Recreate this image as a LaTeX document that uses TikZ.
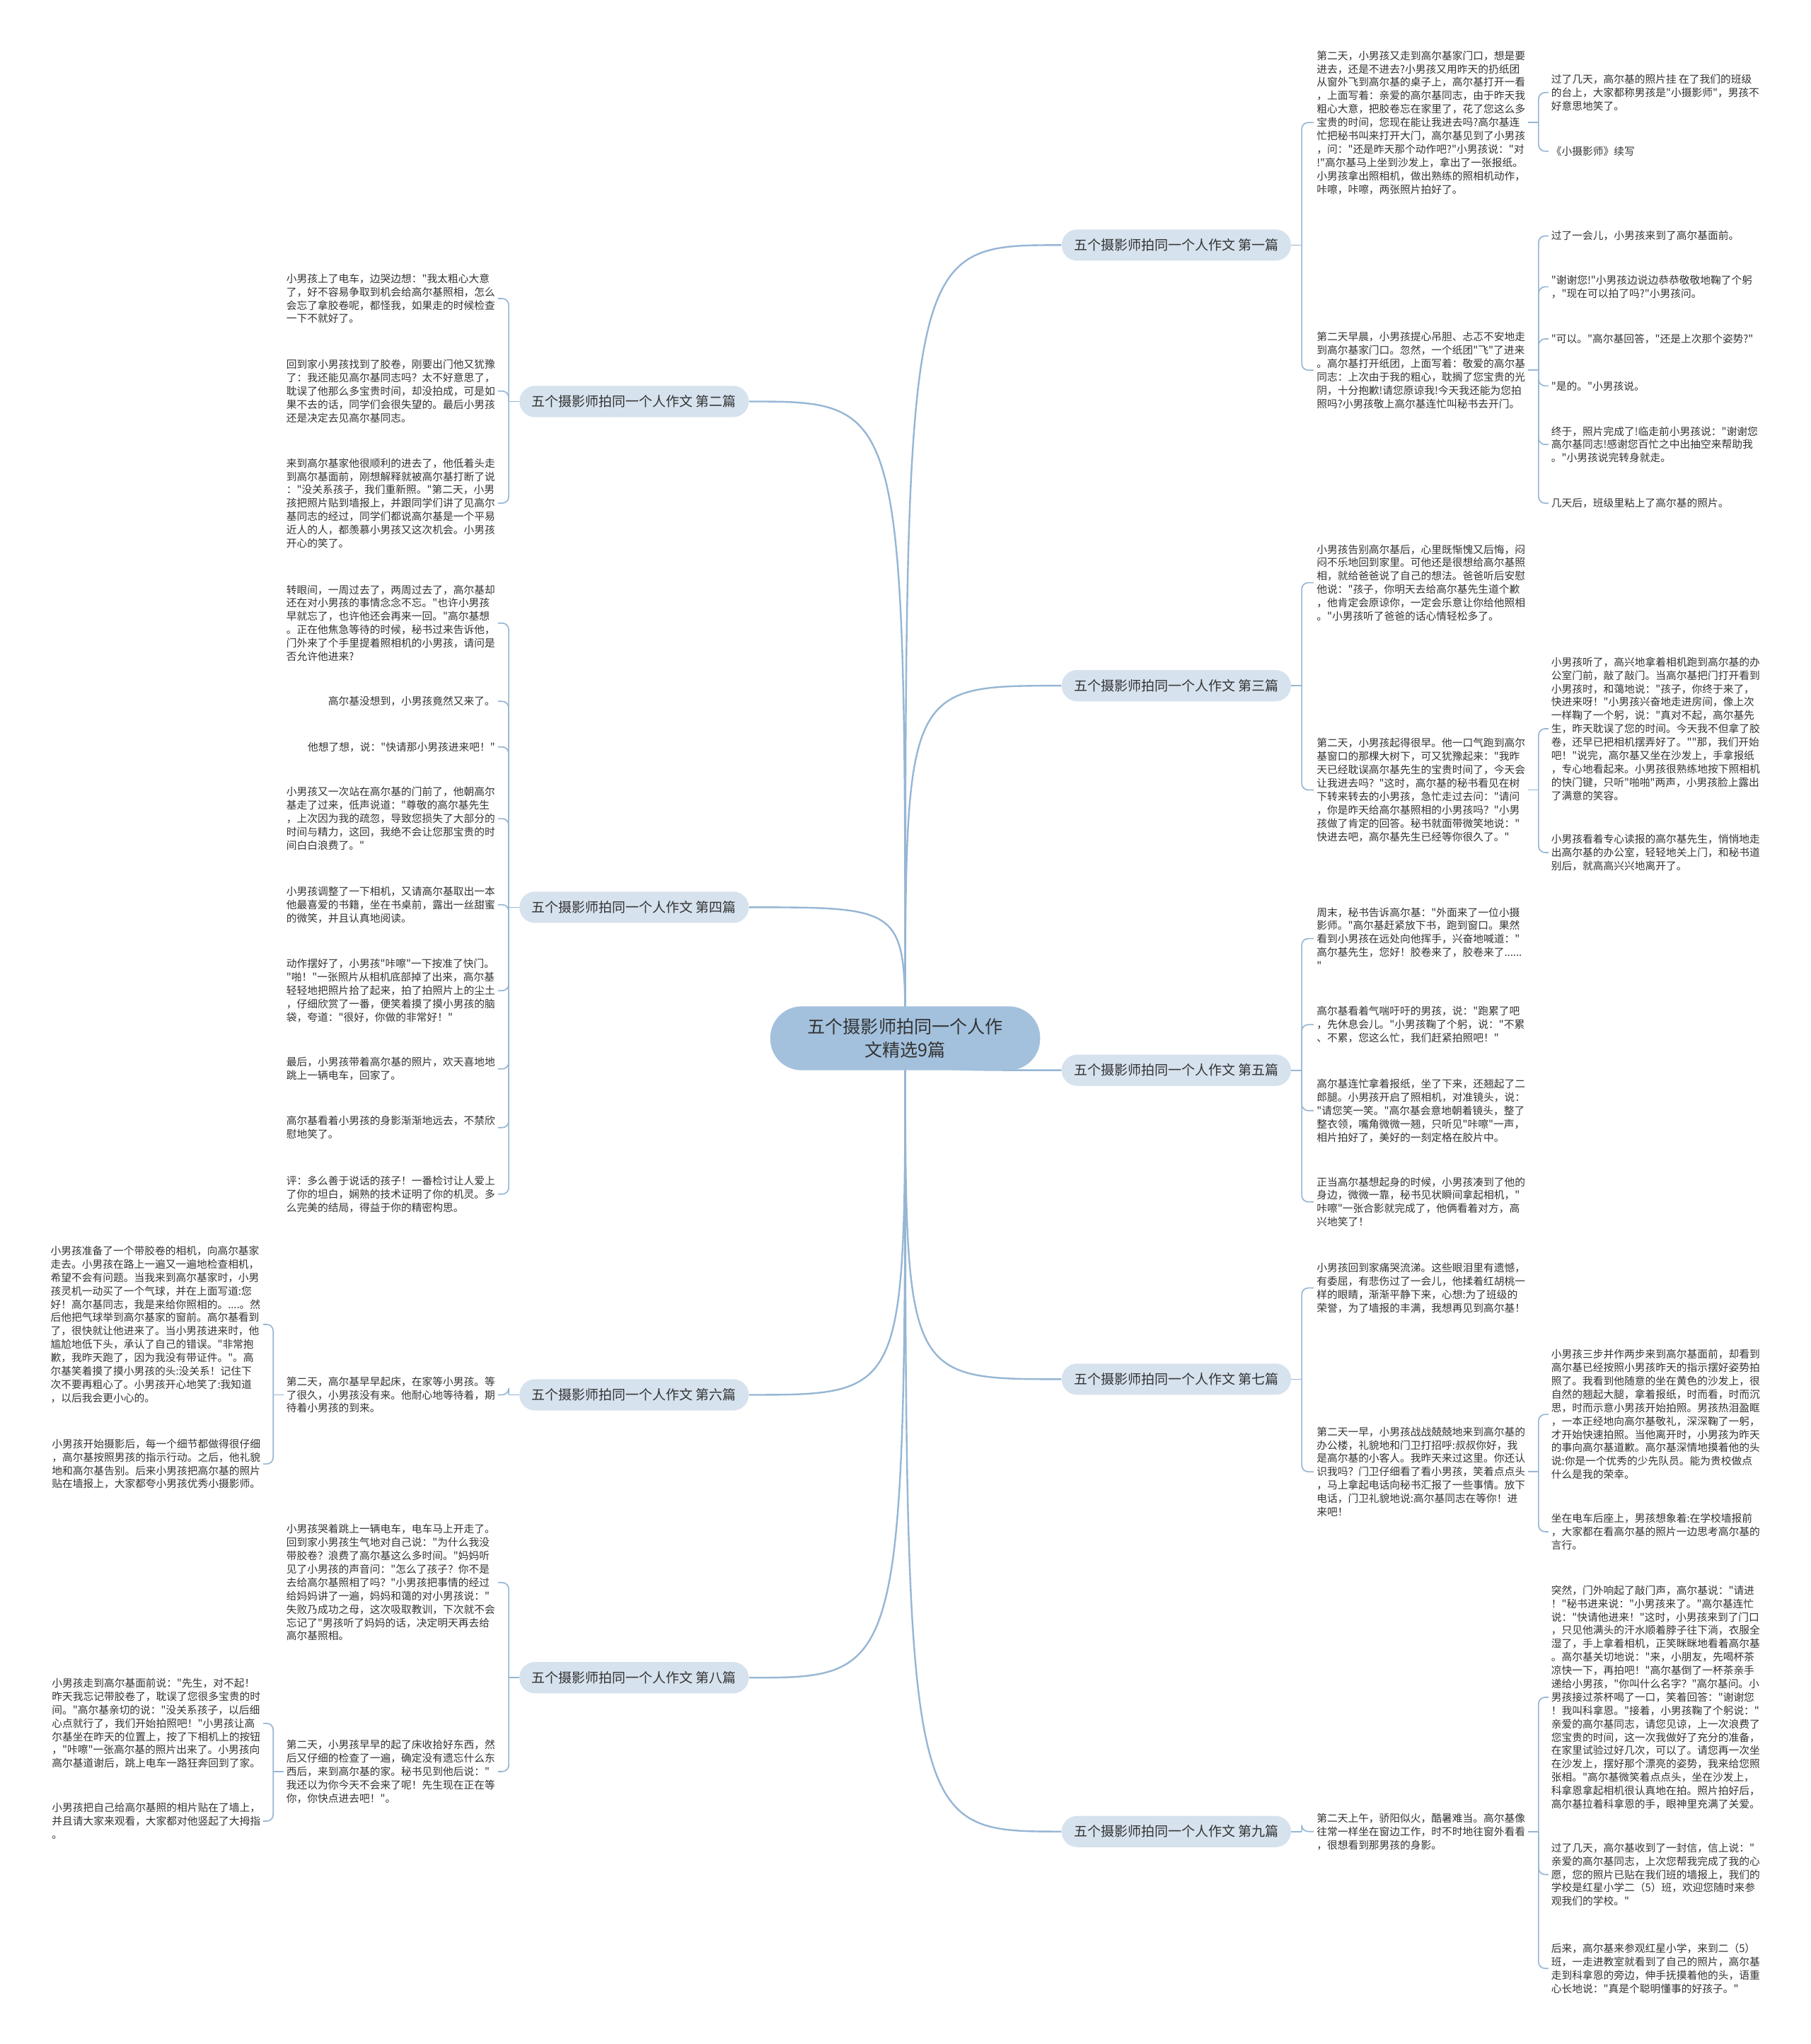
\documentclass[tikz,border=0pt]{standalone}
\usetikzlibrary{backgrounds}
\font\leaffont="Noto Sans CJK SC" at 8pt
\font\branchfont="Noto Sans CJK SC" at 10.3pt
\font\rootfont="Noto Sans CJK SC" at 13.6pt
\newcommand\leafsize{\leaffont\baselineskip=10.25pt}
\newcommand\rootsize{\rootfont\baselineskip=18pt}
\definecolor{linec}{RGB}{150,182,212}
\definecolor{rootc}{RGB}{163,193,221}
\definecolor{branchc}{RGB}{214,226,237}
\definecolor{txt}{RGB}{51,51,51}
\begin{document}
\begin{tikzpicture}[x=1pt, y=-1pt,
    leaf/.style={font=\leafsize, text=txt, align=left, inner sep=2pt},
    branch/.style={fill=branchc, text=txt, font=\branchfont, rounded corners=12pt,
        minimum width=176pt, minimum height=24pt, inner sep=0pt},
    root/.style={fill=rootc, text=txt, font=\rootsize, align=center, rounded corners=24pt,
        minimum width=207pt, minimum height=49pt, inner sep=0pt},
    link/.style={draw=linec, line width=1.3pt},
    brk/.style={draw=linec, line width=0.9pt, rounded corners=5pt}]
    \useasboundingbox (0,0) rectangle (1389,1568);
    % centre and the nine branches
    \node[root] (root) at (694.5,796.5) {五个摄影师拍同一个人作\\文精选9篇};
    \node[branch] (b1) at (902.5,188) {五个摄影师拍同一个人作文 第一篇};
    \node[branch] (b2) at (486.5,308) {五个摄影师拍同一个人作文 第二篇};
    \node[branch] (b3) at (902.5,526) {五个摄影师拍同一个人作文 第三篇};
    \node[branch] (b4) at (486.5,696) {五个摄影师拍同一个人作文 第四篇};
    \node[branch] (b5) at (902.5,821) {五个摄影师拍同一个人作文 第五篇};
    \node[branch] (b6) at (486.5,1070) {五个摄影师拍同一个人作文 第六篇};
    \node[branch] (b7) at (902.5,1058) {五个摄影师拍同一个人作文 第七篇};
    \node[branch] (b8) at (486.5,1287) {五个摄影师拍同一个人作文 第八篇};
    \node[branch] (b9) at (902.5,1405) {五个摄影师拍同一个人作文 第九篇};

    % 第一篇
    \node[leaf, anchor=west] (l1a) at (1008,94) {第二天，小男孩又走到高尔基家门口，想是要\\进去，还是不进去?小男孩又用昨天的扔纸团\\从窗外飞到高尔基的桌子上，高尔基打开一看\\，上面写着：亲爱的高尔基同志，由于昨天我\\粗心大意，把胶卷忘在家里了，花了您这么多\\宝贵的时间，您现在能让我进去吗?高尔基连\\忙把秘书叫来打开大门，高尔基见到了小男孩\\，问："还是昨天那个动作吧?"小男孩说："对\\!"高尔基马上坐到沙发上，拿出了一张报纸。\\小男孩拿出照相机，做出熟练的照相机动作，\\咔嚓，咔嚓，两张照片拍好了。};
    \node[leaf, anchor=west] (l1a1) at (1188,71) {过了几天，高尔基的照片挂 在了我们的班级\\的台上，大家都称男孩是"小摄影师"，男孩不\\好意思地笑了。};
    \node[leaf, anchor=west] (l1a2) at (1188,116) {《小摄影师》续写};
    \node[leaf, anchor=west] (l1b) at (1008,284) {第二天早晨，小男孩提心吊胆、忐忑不安地走\\到高尔基家门口。忽然，一个纸团"飞"了进来\\。高尔基打开纸团，上面写着：敬爱的高尔基\\同志：上次由于我的粗心，耽搁了您宝贵的光\\阴，十分抱歉!请您原谅我!今天我还能为您拍\\照吗?小男孩敬上高尔基连忙叫秘书去开门。};
    \node[leaf, anchor=west] (l1b1) at (1188,181) {过了一会儿，小男孩来到了高尔基面前。};
    \node[leaf, anchor=west] (l1b2) at (1188,220) {"谢谢您!"小男孩边说边恭恭敬敬地鞠了个躬\\，"现在可以拍了吗?"小男孩问。};
    \node[leaf, anchor=west] (l1b3) at (1188,260) {"可以。"高尔基回答，"还是上次那个姿势?"};
    \node[leaf, anchor=west] (l1b4) at (1188,296) {"是的。"小男孩说。};
    \node[leaf, anchor=west] (l1b5) at (1188,341) {终于，照片完成了!临走前小男孩说："谢谢您\\高尔基同志!感谢您百忙之中出抽空来帮助我\\。"小男孩说完转身就走。};
    \node[leaf, anchor=west] (l1b6) at (1188,386) {几天后，班级里粘上了高尔基的照片。};

    % 第二篇
    \node[leaf, anchor=east] (l2a) at (382,229) {小男孩上了电车，边哭边想："我太粗心大意\\了，好不容易争取到机会给高尔基照相，怎么\\会忘了拿胶卷呢，都怪我，如果走的时候检查\\一下不就好了。};
    \node[leaf, anchor=east] (l2b) at (382,300) {回到家小男孩找到了胶卷，刚要出门他又犹豫\\了：我还能见高尔基同志吗？太不好意思了，\\耽误了他那么多宝贵时间，却没拍成，可是如\\果不去的话，同学们会很失望的。最后小男孩\\还是决定去见高尔基同志。};
    \node[leaf, anchor=east] (l2c) at (382,386) {来到高尔基家他很顺利的进去了，他低着头走\\到高尔基面前，刚想解释就被高尔基打断了说\\："没关系孩子，我们重新照。"第二天，小男\\孩把照片贴到墙报上，并跟同学们讲了见高尔\\基同志的经过，同学们都说高尔基是一个平易\\近人的人，都羡慕小男孩又这次机会。小男孩\\开心的笑了。};

    % 第三篇
    \node[leaf, anchor=west] (l3a) at (1008,447) {小男孩告别高尔基后，心里既惭愧又后悔，闷\\闷不乐地回到家里。可他还是很想给高尔基照\\相，就给爸爸说了自己的想法。爸爸听后安慰\\他说："孩子，你明天去给高尔基先生道个歉\\，他肯定会原谅你，一定会乐意让你给他照相\\。"小男孩听了爸爸的话心情轻松多了。};
    \node[leaf, anchor=west] (l3b) at (1008,606) {第二天，小男孩起得很早。他一口气跑到高尔\\基窗口的那棵大树下，可又犹豫起来："我昨\\天已经耽误高尔基先生的宝贵时间了，今天会\\让我进去吗？"这时，高尔基的秘书看见在树\\下转来转去的小男孩，急忙走过去问："请问\\，你是昨天给高尔基照相的小男孩吗？"小男\\孩做了肯定的回答。秘书就面带微笑地说："\\快进去吧，高尔基先生已经等你很久了。"};
    \node[leaf, anchor=west] (l3b1) at (1188,559) {小男孩听了，高兴地拿着相机跑到高尔基的办\\公室门前，敲了敲门。当高尔基把门打开看到\\小男孩时，和蔼地说："孩子，你终于来了，\\快进来呀！"小男孩兴奋地走进房间，像上次\\一样鞠了一个躬，说："真对不起，高尔基先\\生，昨天耽误了您的时间。今天我不但拿了胶\\卷，还早已把相机摆弄好了。""那，我们开始\\吧！"说完，高尔基又坐在沙发上，手拿报纸\\，专心地看起来。小男孩很熟练地按下照相机\\的快门键，只听"啪啪"两声，小男孩脸上露出\\了满意的笑容。};
    \node[leaf, anchor=west] (l3b2) at (1188,654) {小男孩看着专心读报的高尔基先生，悄悄地走\\出高尔基的办公室，轻轻地关上门，和秘书道\\别后，就高高兴兴地离开了。};

    % 第四篇
    \node[leaf, anchor=east] (l4a) at (382,478) {转眼间，一周过去了，两周过去了，高尔基却\\还在对小男孩的事情念念不忘。"也许小男孩\\早就忘了，也许他还会再来一回。"高尔基想\\。正在他焦急等待的时候，秘书过来告诉他，\\门外来了个手里提着照相机的小男孩，请问是\\否允许他进来?};
    \node[leaf, anchor=east] (l4b) at (382,538) {高尔基没想到，小男孩竟然又来了。};
    \node[leaf, anchor=east] (l4c) at (382,573) {他想了想，说："快请那小男孩进来吧！"};
    \node[leaf, anchor=east] (l4d) at (382,628) {小男孩又一次站在高尔基的门前了，他朝高尔\\基走了过来，低声说道："尊敬的高尔基先生\\，上次因为我的疏忽，导致您损失了大部分的\\时间与精力，这回，我绝不会让您那宝贵的时\\间白白浪费了。"};
    \node[leaf, anchor=east] (l4e) at (382,694) {小男孩调整了一下相机，又请高尔基取出一本\\他最喜爱的书籍，坐在书桌前，露出一丝甜蜜\\的微笑，并且认真地阅读。};
    \node[leaf, anchor=east] (l4f) at (382,760) {动作摆好了，小男孩"咔嚓"一下按准了快门。\\"啪！"一张照片从相机底部掉了出来，高尔基\\轻轻地把照片拾了起来，拍了拍照片上的尘土\\，仔细欣赏了一番，便笑着摸了摸小男孩的脑\\袋，夸道："很好，你做的非常好！"};
    \node[leaf, anchor=east] (l4g) at (382,820) {最后，小男孩带着高尔基的照片，欢天喜地地\\跳上一辆电车，回家了。};
    \node[leaf, anchor=east] (l4h) at (382,865) {高尔基看着小男孩的身影渐渐地远去，不禁欣\\慰地笑了。};
    \node[leaf, anchor=east] (l4i) at (382,916) {评：多么善于说话的孩子！一番检讨让人爱上\\了你的坦白，娴熟的技术证明了你的机灵。多\\么完美的结局，得益于你的精密构思。};

    % 第五篇
    \node[leaf, anchor=west] (l5a) at (1008,720) {周末，秘书告诉高尔基："外面来了一位小摄\\影师。"高尔基赶紧放下书，跑到窗口。果然\\看到小男孩在远处向他挥手，兴奋地喊道："\\高尔基先生，您好！胶卷来了，胶卷来了......\\"};
    \node[leaf, anchor=west] (l5b) at (1008,786) {高尔基看着气喘吁吁的男孩，说："跑累了吧\\，先休息会儿。"小男孩鞠了个躬，说："不累\\、不累，您这么忙，我们赶紧拍照吧！"};
    \node[leaf, anchor=west] (l5c) at (1008,852) {高尔基连忙拿着报纸，坐了下来，还翘起了二\\郎腿。小男孩开启了照相机，对准镜头，说：\\"请您笑一笑。"高尔基会意地朝着镜头，整了\\整衣领，嘴角微微一翘，只听见"咔嚓"一声，\\相片拍好了，美好的一刻定格在胶片中。};
    \node[leaf, anchor=west] (l5d) at (1008,922) {正当高尔基想起身的时候，小男孩凑到了他的\\身边，微微一靠，秘书见状瞬间拿起相机，"\\咔嚓"一张合影就完成了，他俩看着对方，高\\兴地笑了！};

    % 第六篇
    \node[leaf, anchor=east] (l6a) at (382,1070) {第二天，高尔基早早起床，在家等小男孩。等\\了很久，小男孩没有来。他耐心地等待着，期\\待着小男孩的到来。};
    \node[leaf, anchor=east] (l6a1) at (202,1016) {小男孩准备了一个带胶卷的相机，向高尔基家\\走去。小男孩在路上一遍又一遍地检查相机，\\希望不会有问题。当我来到高尔基家时，小男\\孩灵机一动买了一个气球，并在上面写道:您\\好！高尔基同志，我是来给你照相的。....。然\\后他把气球举到高尔基家的窗前。高尔基看到\\了，很快就让他进来了。当小男孩进来时，他\\尴尬地低下头，承认了自己的错误。"非常抱\\歉，我昨天跑了，因为我没有带证件。"。高\\尔基笑着摸了摸小男孩的头:没关系！记住下\\次不要再粗心了。小男孩开心地笑了:我知道\\，以后我会更小心的。};
    \node[leaf, anchor=east] (l6a2) at (202,1123) {小男孩开始摄影后，每一个细节都做得很仔细\\，高尔基按照男孩的指示行动。之后，他礼貌\\地和高尔基告别。后来小男孩把高尔基的照片\\贴在墙报上，大家都夸小男孩优秀小摄影师。};

    % 第七篇
    \node[leaf, anchor=west] (l7a) at (1008,988) {小男孩回到家痛哭流涕。这些眼泪里有遗憾，\\有委屈，有悲伤过了一会儿，他揉着红胡桃一\\样的眼睛，渐渐平静下来，心想:为了班级的\\荣誉，为了墙报的丰满，我想再见到高尔基！};
    \node[leaf, anchor=west] (l7b) at (1008,1129) {第二天一早，小男孩战战兢兢地来到高尔基的\\办公楼，礼貌地和门卫打招呼:叔叔你好，我\\是高尔基的小客人。我昨天来过这里。你还认\\识我吗？门卫仔细看了看小男孩，笑着点点头\\，马上拿起电话向秘书汇报了一些事情。放下\\电话，门卫礼貌地说:高尔基同志在等你！进\\来吧！};
    \node[leaf, anchor=west] (l7b1) at (1188,1085) {小男孩三步并作两步来到高尔基面前，却看到\\高尔基已经按照小男孩昨天的指示摆好姿势拍\\照了。我看到他随意的坐在黄色的沙发上，很\\自然的翘起大腿，拿着报纸，时而看，时而沉\\思，时而示意小男孩开始拍照。男孩热泪盈眶\\，一本正经地向高尔基敬礼，深深鞠了一躬，\\才开始快速拍照。当他离开时，小男孩为昨天\\的事向高尔基道歉。高尔基深情地摸着他的头\\说:你是一个优秀的少先队员。能为贵校做点\\什么是我的荣幸。};
    \node[leaf, anchor=west] (l7b2) at (1188,1175) {坐在电车后座上，男孩想象着:在学校墙报前\\，大家都在看高尔基的照片一边思考高尔基的\\言行。};

    % 第八篇
    \node[leaf, anchor=east] (l8a) at (382,1214) {小男孩哭着跳上一辆电车，电车马上开走了。\\回到家小男孩生气地对自己说："为什么我没\\带胶卷？浪费了高尔基这么多时间。"妈妈听\\见了小男孩的声音问："怎么了孩子？你不是\\去给高尔基照相了吗？"小男孩把事情的经过\\给妈妈讲了一遍，妈妈和蔼的对小男孩说："\\失败乃成功之母，这次吸取教训，下次就不会\\忘记了"男孩听了妈妈的话，决定明天再去给\\高尔基照相。};
    \node[leaf, anchor=east] (l8b) at (382,1359) {第二天，小男孩早早的起了床收拾好东西，然\\后又仔细的检查了一遍，确定没有遗忘什么东\\西后，来到高尔基的家。秘书见到他后说："\\我还以为你今天不会来了呢！先生现在正在等\\你，你快点进去吧！"。};
    \node[leaf, anchor=east] (l8b1) at (202,1322) {小男孩走到高尔基面前说："先生，对不起！\\昨天我忘记带胶卷了，耽误了您很多宝贵的时\\间。"高尔基亲切的说："没关系孩子，以后细\\心点就行了，我们开始拍照吧！"小男孩让高\\尔基坐在昨天的位置上，按了下相机上的按钮\\，"咔嚓"一张高尔基的照片出来了。小男孩向\\高尔基道谢后，跳上电车一路狂奔回到了家。};
    \node[leaf, anchor=east] (l8b2) at (202,1397) {小男孩把自己给高尔基照的相片贴在了墙上，\\并且请大家来观看，大家都对他竖起了大拇指\\。};

    % 第九篇
    \node[leaf, anchor=west] (l9a) at (1008,1405) {第二天上午，骄阳似火，酷暑难当。高尔基像\\往常一样坐在窗边工作，时不时地往窗外看看\\，很想看到那男孩的身影。};
    \node[leaf, anchor=west] (l9a1) at (1188,1302) {突然，门外响起了敲门声，高尔基说："请进\\！"秘书进来说："小男孩来了。"高尔基连忙\\说："快请他进来！"这时，小男孩来到了门口\\，只见他满头的汗水顺着脖子往下淌，衣服全\\湿了，手上拿着相机，正笑眯眯地看着高尔基\\。高尔基关切地说："来，小朋友，先喝杯茶\\凉快一下，再拍吧！"高尔基倒了一杯茶亲手\\递给小男孩，"你叫什么名字？"高尔基问。小\\男孩接过茶杯喝了一口，笑着回答："谢谢您\\！我叫科拿恩。"接着，小男孩鞠了个躬说："\\亲爱的高尔基同志，请您见谅，上一次浪费了\\您宝贵的时间，这一次我做好了充分的准备，\\在家里试验过好几次，可以了。请您再一次坐\\在沙发上，摆好那个漂亮的姿势，我来给您照\\张相。"高尔基微笑着点点头，坐在沙发上，\\科拿恩拿起相机很认真地在拍。照片拍好后，\\高尔基拉着科拿恩的手，眼神里充满了关爱。};
    \node[leaf, anchor=west] (l9a2) at (1188,1438) {过了几天，高尔基收到了一封信，信上说："\\亲爱的高尔基同志，上次您帮我完成了我的心\\愿，您的照片已贴在我们班的墙报上，我们的\\学校是红星小学二（5）班，欢迎您随时来参\\观我们的学校。"};
    \node[leaf, anchor=west] (l9a3) at (1188,1510) {后来，高尔基来参观红星小学，来到二（5）\\班，一走进教室就看到了自己的照片，高尔基\\走到科拿恩的旁边，伸手抚摸着他的头，语重\\心长地说："真是个聪明懂事的好孩子。"};

    \begin{scope}[on background layer]
        \fill[white] (0,0) rectangle (1389,1568);
        % centre to branches
        \foreach \b/\s in {b1/west,b3/west,b5/west,b7/west,b9/west,b2/east,b4/east,b6/east,b8/east}
            \draw[link] (root.center) .. controls (root.center |- \b.\s) and (root.center |- \b.\s) .. (\b.\s);
        % brackets on the right
        \foreach \p/\k in {b1/{l1a,l1b},b3/{l3a,l3b},b5/{l5a,l5b,l5c,l5d},b7/{l7a,l7b},b9/{l9a},
                l1a/{l1a1,l1a2},l1b/{l1b1,l1b2,l1b3,l1b4,l1b5,l1b6},l3b/{l3b1,l3b2},l7b/{l7b1,l7b2},l9a/{l9a1,l9a2,l9a3}}{
            \draw[brk] (\p.east) -- ++(8,0) coordinate (\p-j);
            \foreach \c in \k
                \draw[brk] (\p-j) |- (\c.west);
        }
        % brackets on the left
        \foreach \p/\k in {b2/{l2a,l2b,l2c},b4/{l4a,l4b,l4c,l4d,l4e,l4f,l4g,l4h,l4i},b6/{l6a},b8/{l8a,l8b},
                l6a/{l6a1,l6a2},l8b/{l8b1,l8b2}}{
            \draw[brk] (\p.west) -- ++(-8,0) coordinate (\p-j);
            \foreach \c in \k
                \draw[brk] (\p-j) |- (\c.east);
        }
    \end{scope}
\end{tikzpicture}
\end{document}
